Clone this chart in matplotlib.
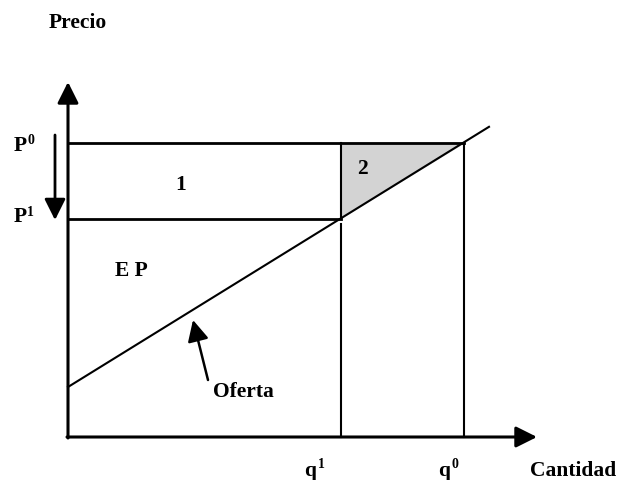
import numpy as np
import matplotlib
matplotlib.use("Agg")
import matplotlib.pyplot as plt

# diagram values (data units, origin at axis corner)
q1 = 273
q0 = 396
p0 = 294
p1 = 218
supply_intercept = 50
supply_slope = 0.618
supply_end = 421
x_axis_end = 469
y_axis_end = 355

plt.rcParams['font.family'] = ['Liberation Serif', 'DejaVu Serif']

fig = plt.figure(figsize=(6.17, 4.8), dpi=100)
ax = fig.add_axes([0, 0, 1, 1])
ax.set_xlim(-68, 549)
ax.set_ylim(-43, 437)
ax.axis('off')

head = '-|>,head_length=0.8,head_width=0.4'
axis_arrow = dict(arrowstyle=head, lw=2.2, color='black',
                  shrinkA=0, shrinkB=0, mutation_scale=16)
ax.annotate('', xy=(0, y_axis_end), xytext=(0, -1), arrowprops=axis_arrow)
ax.annotate('', xy=(x_axis_end, 0), xytext=(-1, 0), arrowprops=axis_arrow)

# supply line
xs = np.array([0, supply_end])
ax.plot(xs, supply_intercept + supply_slope * xs, color='black', lw=1.5)

# price lines
ax.plot([0, q0], [p0, p0], color='black', lw=2)
ax.plot([0, q1], [p1, p1], color='black', lw=2)

# quantity verticals
q1_price = supply_intercept + supply_slope * q1
ax.plot([q1, q1], [0, q1_price - 6], color='black', lw=1.5)
ax.plot([q1, q1], [q1_price, p0], color='black', lw=1.5)
ax.plot([q0, q0], [0, p0], color='black', lw=1.5)

# triangle 2
ax.fill([q1, q0, q1], [q1_price, p0, p0], color='#d3d3d3', zorder=0)

# price drop arrow
ax.annotate('', xy=(-13, p1 - 1), xytext=(-13, p0 + 8),
            arrowprops=dict(arrowstyle=head, lw=2, color='black',
                            shrinkA=0, shrinkB=0, mutation_scale=16))

# Oferta arrow
ax.annotate('', xy=(125, 117), xytext=(140, 57),
            arrowprops=dict(arrowstyle=head, lw=1.8, color='black',
                            shrinkA=0, shrinkB=0, mutation_scale=16))

txt = dict(fontsize=15.5, fontweight='bold', ha='center', va='center')
sup = dict(fontsize=10, fontweight='bold', ha='left', va='center')
ax.text(10, 414, 'Precio', **txt)
ax.text(-48, 291, 'P', **txt)
ax.text(-41, 296, '0', **sup)
ax.text(-48, 220, 'P', **txt)
ax.text(-41, 225, '1', **sup)
ax.text(113, 252, '1', **txt)
ax.text(294, 268, '2', **txt)
ax.text(63, 166, 'E P', **txt)
ax.text(175, 45, 'Oferta', **txt)
ax.text(242, -34, 'q', **txt)
ax.text(250, -27, '1', **sup)
ax.text(376, -34, 'q', **txt)
ax.text(384, -27, '0', **sup)
ax.text(505, -34, 'Cantidad', **txt)

fig.savefig('out.png', dpi=100)
